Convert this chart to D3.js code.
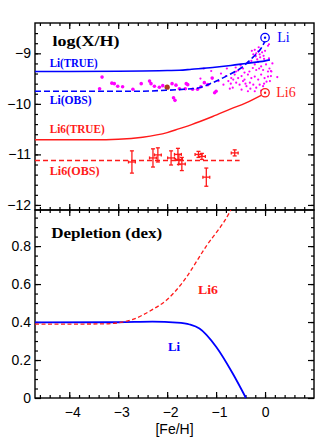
<!DOCTYPE html>
<html>
<head>
<meta charset="utf-8">
<script src="https://cdn.jsdelivr.net/npm/d3@7"></script>
<style>
  body { margin: 0; background: #fff; }
  .tick text { font-family: "Liberation Sans", Arial, sans-serif; font-size: 14px; fill: #000; }
  .tick line { stroke: #000; stroke-width: 1.2; }
  .lbl { font-family: "Liberation Serif", "DejaVu Serif", serif; font-weight: bold; }
</style>
</head>
<body>
<svg id="chart" width="332" height="443"></svg>
<script>
// ---- data ----
var feTicks = [-4, -3, -2, -1, 0];
var logTicks = [-9, -10, -11, -12];
var depTicks = [0, 0.2, 0.4, 0.6, 0.8];

// top panel curves [Fe/H, log(X/H)]
var liTrue = [[-4.7,-9.36],[-4,-9.36],[-3,-9.355],[-2.5,-9.35],[-2,-9.34],[-1.75,-9.335],[-1.5,-9.315],[-1.07,-9.28],[-0.7,-9.24],[-0.39,-9.2],[0,-9.15],[0.1,-9.13]];
var liObs = [[-4.7,-9.75],[-2.6,-9.75],[-2.0,-9.73],[-1.65,-9.71],[-1.34,-9.68],[-1.07,-9.58],[-0.73,-9.42],[-0.49,-9.29],[-0.25,-9.08],[-0.08,-8.9],[0,-8.76]];
var li6True = [[-4.7,-10.71],[-3.5,-10.71],[-3,-10.70],[-2.5,-10.66],[-2,-10.57],[-1.75,-10.49],[-1.5,-10.41],[-1.07,-10.25],[-0.7,-10.1],[-0.39,-9.98],[-0.08,-9.83]];
var li6Obs = [[-4.7,-11.12],[-0.52,-11.12]];
var sunLi = [0, -8.69];
var sunLi6 = [0, -9.78];

// Li6 measurements
var li6Fe   = [-2.72, -2.29, -2.19, -1.92, -1.78, -1.76, -1.70, -1.36, -1.29, -1.20, -0.62];
var li6Val  = [-11.15, -11.07, -11.01, -11.07, -11.0, -11.10, -11.19, -11.0, -11.04, -11.45, -10.97];
var li6ErrY = [0.22, 0.18, 0.14, 0.14, 0.12, 0.10, 0.13, 0.06, 0.06, 0.18, 0.06];
var li6ErrX = [0.07, 0.07, 0.07, 0.07, 0.07, 0.07, 0.07, 0.07, 0.07, 0.07, 0.07];

// Li measurements, halo dwarfs (big dots)
var liHalo = [[-3.33,-9.47],[-3.38,-9.70],[-3.13,-9.59],[-3.08,-9.60],[-3.01,-9.65],[-2.91,-9.66],[-2.70,-9.71],
  [-2.53,-9.60],[-2.36,-9.55],[-2.33,-9.60],[-2.26,-9.65],[-2.16,-9.67],[-2.09,-9.64],[-1.90,-9.60],[-1.82,-9.63],
  [-1.75,-9.70],[-1.87,-9.88],[-1.84,-9.93],[-1.61,-9.60],[-1.63,-9.70],[-1.58,-9.62],[-1.48,-9.71],[-1.38,-9.71],
  [-1.31,-9.66],[-1.24,-9.58],[-1.17,-9.62],[-1.08,-9.49],[-1.03,-9.78],[-1.0,-9.75]];
// Li measurements, disk stars (small dots)
var liDisk = [[-0.21,-8.93],[-0.18,-9.0],[-0.14,-8.96],[-0.11,-9.02],[-0.06,-8.98],[-0.03,-9.05],[-0.19,-9.06],
  [-0.1,-9.08],[0.0,-8.95],[0.06,-8.85],[0.08,-8.82],[-0.02,-9.11],[-0.24,-9.02],[-0.16,-9.12],
  [-0.35,-9.18],[-0.28,-9.15],[-0.21,-9.22],[-0.14,-9.17],[-0.08,-9.26],[0.02,-9.22],[0.09,-9.3],[-0.25,-9.29],
  [-0.18,-9.33],[-0.04,-9.33],[0.06,-9.36],[-0.32,-9.36],[0.12,-9.35],[-0.45,-9.3],[-0.5,-9.24],[-0.6,-9.28],
  [-0.62,-9.42],[-0.55,-9.49],[-0.48,-9.45],[-0.42,-9.52],[-0.35,-9.42],[-0.28,-9.49],[-0.21,-9.46],[-0.14,-9.52],
  [-0.08,-9.42],[-0.01,-9.49],[0.06,-9.46],[-0.59,-9.58],[-0.52,-9.62],[-0.45,-9.55],[-0.38,-9.65],[-0.31,-9.58],
  [-0.24,-9.62],[-0.18,-9.68],[-0.11,-9.62],[-0.04,-9.65],[-0.66,-9.68],[-0.48,-9.72],[-0.35,-9.75],[-0.21,-9.75],
  [-0.08,-9.74],[0.03,-9.56],[-0.69,-9.49],[-0.59,-9.36],[0.13,-9.36],[-0.75,-9.55],[-0.8,-9.45],[-0.85,-9.62],
  [-0.9,-9.4],[-0.72,-9.7],[-0.78,-9.3],[-1.1,-9.35],[-1.25,-9.3],[-1.32,-9.5],[0.25,-9.47],[-0.3,-9.7],
  [-0.12,-9.3],[-0.42,-9.38],[-0.55,-9.34],[-0.65,-9.52],[0.1,-9.55],[-0.02,-9.6],[0.15,-9.2],[0.08,-9.1],
  [-0.27,-8.95],[-0.13,-8.88],[0.12,-9.45],[-0.7,-9.6],[-0.4,-9.6],[-0.95,-9.55]];
var brownStar = [-2.0, -9.67];

// bottom panel, depletion in dex
var depLi = [[-4.7,0.398],[-3,0.399],[-2.3,0.402],[-1.8,0.397],[-1.54,0.387],[-1.34,0.366],[-1.0,0.27],[-0.66,0.129],[-0.39,0]];
var depLi6 = [[-4.7,0.389],[-3.3,0.39],[-3.0,0.396],[-2.7,0.414],[-2.32,0.463],[-2.01,0.516],[-1.71,0.6],[-1.2,0.8],[-0.72,0.98],[-0.70,0.99]];

// ---- layout ----
var svg = d3.select("#chart");
var L = 35, R = 314, T = 23, M = 210, B = 398;
var BLUE = "#0000ff", RED = "#ff1a1a", MAG = "#ff00ff";

var x = d3.scaleLinear().domain([-4.7, 1.0]).range([L, R]);
var yTop = d3.scaleLinear().domain([-12.1, -8.4]).range([M, T]);
var yBot = d3.scaleLinear().domain([0, 0.99]).range([B, M]);

function range(a, b, s) {
  var out = [];
  for (var v = a; v <= b + 1e-9; v += s) out.push(Math.round(v * 1000) / 1000);
  return out;
}
var feMinor = range(-4.6, 0.8, 0.2);
var logMinor = range(-12, -8.6, 0.2);
var depMinor = range(0.05, 0.95, 0.05);

var g = svg.append("g");

// axes (ticks pointing inward on all four sides of each panel)
function addAxis(axis, tx, ty, minor, minorVals, major, pad) {
  var a = g.append("g").attr("transform", "translate(" + tx + "," + ty + ")");
  a.call(axis.tickValues(minorVals).tickSize(-3).tickFormat(""));
  a.select(".domain").remove();
  var b = g.append("g").attr("transform", "translate(" + tx + "," + ty + ")");
  b.call(minor.tickValues(major).tickSize(-6).tickPadding(pad));
  b.select(".domain").remove();
  return b;
}

var fmtDep = function(d) { return d === 0 ? "0" : d3.format(".1f")(d); };
var fmtInt = d3.format("d");

// top panel
addAxis(d3.axisLeft(yTop), L, 0, d3.axisLeft(yTop).tickFormat(fmtInt), logMinor, logTicks, 4);
addAxis(d3.axisRight(yTop), R, 0, d3.axisRight(yTop).tickFormat(""), logMinor, logTicks, 4);
addAxis(d3.axisTop(x), 0, T, d3.axisTop(x).tickFormat(""), feMinor, feTicks, 4);
addAxis(d3.axisBottom(x), 0, M, d3.axisBottom(x).tickFormat(""), feMinor, feTicks, 4);
// bottom panel
addAxis(d3.axisLeft(yBot), L, 0, d3.axisLeft(yBot).tickFormat(fmtDep), depMinor, depTicks, 4);
addAxis(d3.axisRight(yBot), R, 0, d3.axisRight(yBot).tickFormat(""), depMinor, depTicks, 4);
addAxis(d3.axisTop(x), 0, M, d3.axisTop(x).tickFormat(""), feMinor, feTicks, 4);
var xb = addAxis(d3.axisBottom(x), 0, B, d3.axisBottom(x).tickFormat(fmtInt), feMinor, feTicks, 9);
xb.selectAll(".tick text").attr("dx", function(d) { return d < 0 ? 3 : 0; });

// frames
g.append("rect").attr("x", L).attr("y", T).attr("width", R - L).attr("height", M - T)
  .attr("fill", "none").attr("stroke", "#000").attr("stroke-width", 1.4);
g.append("rect").attr("x", L).attr("y", M).attr("width", R - L).attr("height", B - M)
  .attr("fill", "none").attr("stroke", "#000").attr("stroke-width", 1.4);

// ---- top panel marks ----
var lineTop = d3.line().x(function(d) { return x(d[0]); }).y(function(d) { return yTop(d[1]); }).curve(d3.curveMonotoneX);
var lineBot = d3.line().x(function(d) { return x(d[0]); }).y(function(d) { return yBot(d[1]); }).curve(d3.curveMonotoneX);

// scatter first, curves on top
g.selectAll(".disk").data(liDisk).enter().append("circle")
  .attr("class", "disk")
  .attr("cx", function(d) { return x(d[0]); })
  .attr("cy", function(d) { return yTop(d[1]); })
  .attr("r", 1.1).attr("fill", MAG);
g.selectAll(".halo").data(liHalo).enter().append("circle")
  .attr("class", "halo")
  .attr("cx", function(d) { return x(d[0]); })
  .attr("cy", function(d) { return yTop(d[1]); })
  .attr("r", 1.8).attr("fill", MAG);
g.append("circle").attr("cx", x(brownStar[0])).attr("cy", yTop(brownStar[1])).attr("r", 2.6).attr("fill", "#a83c1c");

g.append("path").datum(liTrue).attr("d", lineTop).attr("fill", "none").attr("stroke", BLUE).attr("stroke-width", 1.6);
g.append("path").datum(liObs).attr("d", lineTop).attr("fill", "none").attr("stroke", BLUE).attr("stroke-width", 1.6).attr("stroke-dasharray", "6,3");
g.append("path").datum(li6True).attr("d", lineTop).attr("fill", "none").attr("stroke", RED).attr("stroke-width", 1.4);
g.append("path").datum(li6Obs).attr("d", lineTop).attr("fill", "none").attr("stroke", RED).attr("stroke-width", 1.4).attr("stroke-dasharray", "5,3");

// Li6 error bars
var errG = g.selectAll(".err").data(li6Fe).enter().append("g").attr("class", "err")
  .attr("stroke", RED).attr("stroke-width", 1.3);
errG.append("line")
  .attr("x1", function(d) { return x(d); }).attr("x2", function(d) { return x(d); })
  .attr("y1", function(d, i) { return yTop(li6Val[i] - li6ErrY[i]); })
  .attr("y2", function(d, i) { return yTop(li6Val[i] + li6ErrY[i]); });
errG.append("line")
  .attr("x1", function(d, i) { return x(d - li6ErrX[i]); }).attr("x2", function(d, i) { return x(d + li6ErrX[i]); })
  .attr("y1", function(d, i) { return yTop(li6Val[i]); })
  .attr("y2", function(d, i) { return yTop(li6Val[i]); });
[-1, 1].forEach(function(s) {
  errG.append("line")
    .attr("x1", function(d) { return x(d) - 2; }).attr("x2", function(d) { return x(d) + 2; })
    .attr("y1", function(d, i) { return yTop(li6Val[i] + s * li6ErrY[i]); })
    .attr("y2", function(d, i) { return yTop(li6Val[i] + s * li6ErrY[i]); });
  errG.append("line")
    .attr("x1", function(d, i) { return x(d + s * li6ErrX[i]); }).attr("x2", function(d, i) { return x(d + s * li6ErrX[i]); })
    .attr("y1", function(d, i) { return yTop(li6Val[i]) - 1.5; })
    .attr("y2", function(d, i) { return yTop(li6Val[i]) + 1.5; });
});

// solar symbols
[[sunLi, BLUE], [sunLi6, RED]].forEach(function(p) {
  g.append("circle").attr("cx", x(p[0][0])).attr("cy", yTop(p[0][1])).attr("r", 4.2)
    .attr("fill", "#fff").attr("stroke", p[1]).attr("stroke-width", 1.3);
  g.append("circle").attr("cx", x(p[0][0])).attr("cy", yTop(p[0][1])).attr("r", 1.2).attr("fill", p[1]);
});

// ---- bottom panel marks ----
g.append("path").datum(depLi).attr("d", lineBot).attr("fill", "none").attr("stroke", BLUE).attr("stroke-width", 1.8);
g.append("path").datum(depLi6).attr("d", lineBot).attr("fill", "none").attr("stroke", RED).attr("stroke-width", 1.3).attr("stroke-dasharray", "4,2.5");

// ---- labels ----
function label(txt, px, py, color, size, bold, width) {
  var t = g.append("text").attr("class", bold ? "lbl" : null)
    .attr("x", px).attr("y", py).attr("dominant-baseline", "central")
    .attr("font-family", bold ? null : "'Liberation Serif', serif")
    .attr("font-size", size).attr("fill", color).text(txt);
  if (width) t.attr("textLength", width).attr("lengthAdjust", "spacingAndGlyphs");
}
label("log(X/H)", x(-4.34), yTop(-8.75), "#000", 15, true, 67);
label("Li(TRUE)", x(-4.40), yTop(-9.19), BLUE, 12.5, true, 48);
label("Li(OBS)", x(-4.40), yTop(-9.92), BLUE, 12.5, true, 42);
label("Li6(TRUE)", x(-4.40), yTop(-10.49), RED, 12.5, true, 55);
label("Li6(OBS)", x(-4.40), yTop(-11.32), RED, 12.5, true, 50);
label("Li", x(0.25), yTop(-8.69), BLUE, 14, false);
label("Li6", x(0.23), yTop(-9.78), RED, 14, false);
label("Depletion (dex)", x(-4.37), yBot(0.87), "#000", 14.5, true, 111);
label("Li6", x(-1.37), yBot(0.57), RED, 12.5, true, 20);
label("Li", x(-1.98), yBot(0.27), BLUE, 12.5, true, 12);
g.append("text").attr("x", x(-1.85)).attr("y", 429).attr("dominant-baseline", "central")
  .attr("text-anchor", "middle").attr("font-family", "'Liberation Sans', Arial, sans-serif")
  .attr("font-size", 14).text("[Fe/H]");
</script>
</body>
</html>
